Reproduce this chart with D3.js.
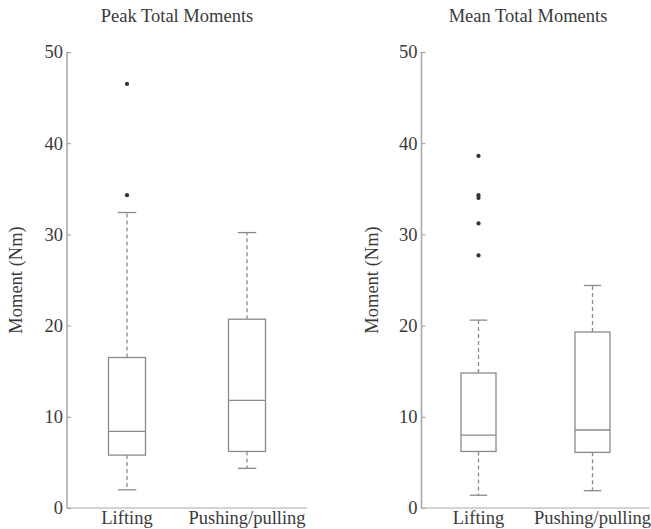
<!DOCTYPE html>
<html><head><meta charset="utf-8">
<script src="https://cdn.jsdelivr.net/npm/d3@7"></script>
<style>body{margin:0;background:#fff}svg{display:block}</style>
</head><body><svg id="c" width="651" height="529"></svg>
<script>
const categories = ["Lifting", "Pushing/pulling"];
const yTicks = [0, 10, 20, 30, 40, 50];
// Peak Total Moments
const peakWhiskerLow = [2.0, 4.35];
const peakQ1 = [5.8, 6.2];
const peakMedian = [8.4, 11.8];
const peakQ3 = [16.5, 20.7];
const peakWhiskerHigh = [32.4, 30.2];
const peakOutliers = [[34.3, 46.5], []];
// Mean Total Moments
const meanWhiskerLow = [1.4, 1.9];
const meanQ1 = [6.2, 6.1];
const meanMedian = [8.0, 8.55];
const meanQ3 = [14.8, 19.3];
const meanWhiskerHigh = [20.6, 24.4];
const meanOutliers = [[27.7, 31.2, 34.0, 34.3, 38.6], []];

const svg = d3.select("#c");
const y = d3.scaleLinear().domain([0, 50]).range([508, 52]);
const fs = 18.5;
const tc = "#3a3a3a";
const ff = '"Liberation Serif"';

function txt(sel) {
  return sel.style("font-family", ff).attr("font-size", fs).attr("fill", tc);
}

function panel(title, x0, x1, boxW, lo, q1, med, q3, hi, outl, labelX, titleX) {
  const x = d3.scaleBand().domain(categories).range([x0, x1]);
  const g = svg.append("g");
  const data = categories.map((c, i) => ({c, lo: lo[i], q1: q1[i], med: med[i], q3: q3[i], hi: hi[i], out: outl[i]}));
  const ax = g.append("g").attr("transform", `translate(${x0},0)`).call(d3.axisRight(y).tickValues(yTicks).tickSize(4).tickFormat(""));
  ax.select(".domain").remove();
  ax.selectAll(".tick line").attr("stroke", "#999");
  g.append("line").attr("x1", x0).attr("x2", x0).attr("y1", y(50)).attr("y2", y(0)).attr("stroke", "#aaa").attr("stroke-width", 1.6);
  g.append("line").attr("x1", x0).attr("x2", x1).attr("y1", y(0)).attr("y2", y(0)).attr("stroke", "#aaa").attr("stroke-width", 1.2);
  txt(g.selectAll(".tl").data(yTicks).join("text").attr("x", x0 - 4).attr("y", d => y(d)).attr("dy", "0.35em")
    .attr("text-anchor", "end")).text(d => d);
  txt(g.selectAll(".xl").data(categories).join("text").attr("x", d => x(d) + x.bandwidth() / 2).attr("y", 524)
    .attr("text-anchor", "middle")).text(d => d);
  txt(g.append("text").attr("x", titleX).attr("y", 22).attr("text-anchor", "middle")).text(title);
  txt(g.append("text").attr("transform", `translate(${labelX},${y(25)}) rotate(-90)`).attr("text-anchor", "middle")).text("Moment (Nm)");
  const b = g.selectAll(".box").data(data).join("g").attr("transform", d => `translate(${x(d.c) + x.bandwidth() / 2},0)`);
  const st = "#8a8a8a";
  b.append("line").attr("y1", d => y(d.q3)).attr("y2", d => y(d.hi)).attr("stroke", st).attr("stroke-width", 1.3).attr("stroke-dasharray", "4,3");
  b.append("line").attr("y1", d => y(d.q1)).attr("y2", d => y(d.lo)).attr("stroke", st).attr("stroke-width", 1.3).attr("stroke-dasharray", "4,3");
  b.append("line").attr("x1", -boxW / 4).attr("x2", boxW / 4).attr("y1", d => y(d.hi)).attr("y2", d => y(d.hi)).attr("stroke", st).attr("stroke-width", 1.3);
  b.append("line").attr("x1", -boxW / 4).attr("x2", boxW / 4).attr("y1", d => y(d.lo)).attr("y2", d => y(d.lo)).attr("stroke", st).attr("stroke-width", 1.3);
  b.append("rect").attr("x", -boxW / 2).attr("width", boxW).attr("y", d => y(d.q3)).attr("height", d => y(d.q1) - y(d.q3))
    .attr("fill", "none").attr("stroke", st).attr("stroke-width", 1.3);
  b.append("line").attr("x1", -boxW / 2).attr("x2", boxW / 2).attr("y1", d => y(d.med)).attr("y2", d => y(d.med)).attr("stroke", st).attr("stroke-width", 1.3);
  b.selectAll(".o").data(d => d.out).join("path").attr("transform", d => `translate(0,${y(d)})`)
    .attr("d", d3.symbol(d3.symbolCircle, 14)).attr("fill", "#333");
}
panel("Peak Total Moments", 67, 307, 37, peakWhiskerLow, peakQ1, peakMedian, peakQ3, peakWhiskerHigh, peakOutliers, 22, 177);
panel("Mean Total Moments", 421.5, 649.5, 35, meanWhiskerLow, meanQ1, meanMedian, meanQ3, meanWhiskerHigh, meanOutliers, 378, 528);
</script></body></html>
